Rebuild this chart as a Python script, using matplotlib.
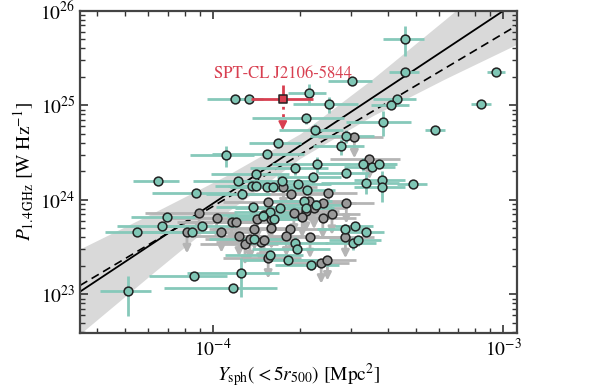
#!/usr/bin/env python3
"""
Radio power vs. Compton-Y scatter with upper limits, fit lines and confidence band.
"""

import numpy as np
import matplotlib
matplotlib.use("Agg")
import matplotlib.pyplot as plt
from matplotlib.ticker import LogLocator, NullFormatter

# Detections: Y_sph in units of 1e-4 Mpc^2, P_1.4 in units of 1e24 W/Hz,
# fractional errors on both
det_y = [4.59, 4.59, 9.44, 3.01, 2.14, 1.19, 1.33, 2.52, 8.38, 4.29,
         4.11, 2.09, 3.84, 5.82, 2.25, 2.88, 1.67, 2.76, 1.11, 1.53,
         2.28, 3.30, 3.53, 3.72, 1.92, 1.41, 2.88, 2.21, 0.646, 1.22,
         1.73, 3.83, 3.37, 4.89, 1.96, 1.36, 1.41, 1.53, 1.61, 3.83,
         2.11, 0.878, 1.26, 2.06, 1.70, 2.09, 0.694, 0.667, 0.547, 0.92,
         1.37, 1.50, 1.57, 1.49, 0.847, 1.39, 1.62, 2.86, 3.09, 3.37,
         3.04, 3.15, 1.92, 1.95, 1.57, 1.81, 2.18, 1.25, 0.862, 1.17,
         0.512, 2.27]
det_p = [50.6, 22.6, 22.3, 18.0, 13.4, 11.6, 11.6, 10.3, 10.2, 11.8,
         9.98, 7.27, 6.69, 5.47, 5.47, 4.75, 3.95, 3.70, 2.95, 3.05,
         2.39, 2.39, 2.24, 2.38, 2.15, 1.86, 1.93, 1.72, 1.58, 1.59,
         1.58, 1.63, 1.52, 1.47, 1.47, 1.41, 1.40, 1.35, 1.35, 1.35,
         1.27, 1.18, 1.14, 0.976, 0.811, 0.811, 0.661, 0.53, 0.46, 0.528,
         0.84, 0.689, 0.747, 0.67, 0.45, 0.384, 0.621, 0.486, 0.528, 0.458,
         0.348, 0.371, 0.348, 0.303, 0.257, 0.232, 0.205, 0.168, 0.155, 0.117,
         0.108, 0.89]
det_yerr = [0.16, 0.12, 0.07, 0.17, 0.15, 0.20, 0.12, 0.25, 0.08, 0.17,
            0.15, 0.35, 0.25, 0.08, 0.25, 0.25, 0.20, 0.20, 0.25, 0.35,
            0.30, 0.30, 0.20, 0.15, 0.30, 0.30, 0.20, 0.25, 0.18, 0.30,
            0.30, 0.20, 0.30, 0.12, 0.30, 0.25, 0.20, 0.25, 0.20, 0.20,
            0.25, 0.30, 0.25, 0.25, 0.30, 0.25, 0.25, 0.30, 0.22, 0.30,
            0.25, 0.30, 0.25, 0.25, 0.30, 0.30, 0.25, 0.20, 0.15, 0.15,
            0.20, 0.20, 0.30, 0.30, 0.30, 0.30, 0.25, 0.35, 0.30, 0.42,
            0.20, 0.25]
det_perr = [0.35, 0.10, 0.05, 0.05, 0.25, 0.04, 0.04, 0.20, 0.04, 0.08,
            0.06, 0.12, 0.30, 0.08, 0.15, 0.15, 0.10, 0.20, 0.25, 0.08,
            0.20, 0.15, 0.10, 0.10, 0.15, 0.12, 0.12, 0.15, 0.05, 0.08,
            0.10, 0.25, 0.25, 0.05, 0.10, 0.05, 0.05, 0.08, 0.08, 0.30,
            0.10, 0.08, 0.08, 0.10, 0.10, 0.10, 0.08, 0.08, 0.06, 0.10,
            0.10, 0.10, 0.10, 0.10, 0.08, 0.12, 0.12, 0.15, 0.10, 0.10,
            0.15, 0.12, 0.15, 0.12, 0.12, 0.12, 0.12, 0.45, 0.08, 0.10,
            0.45, 0.10]

# Upper limits (same units)
lim_y = [1.75, 1.86, 3.07, 3.46, 2.50, 2.15, 2.23, 2.88, 1.90, 2.09,
         2.39, 2.57, 2.40, 1.59, 1.85, 1.79, 2.16, 2.86, 2.36, 2.48,
         0.897, 1.03, 0.814, 1.07, 1.16, 1.20, 1.23, 1.29, 1.34, 1.46,
         1.50, 1.55, 1.39, 1.42, 1.55, 1.58, 2.03]
lim_p = [1.38, 1.14, 4.57, 2.73, 1.17, 0.96, 0.811, 0.93, 0.728, 0.76,
         0.645, 0.706, 0.93, 0.498, 0.486, 0.416, 0.40, 0.40, 0.215, 0.232,
         0.718, 0.645, 0.45, 0.458, 0.585, 0.575, 0.416, 0.34, 0.38, 0.357,
         0.371, 0.243, 0.486, 0.621, 0.953, 0.621, 0.66]
lim_yerr = [0.30, 0.30, 0.25, 0.27, 0.25, 0.30, 0.30, 0.25, 0.30, 0.30,
            0.30, 0.25, 0.30, 0.30, 0.30, 0.30, 0.30, 0.25, 0.25, 0.25,
            0.35, 0.35, 0.30, 0.35, 0.35, 0.30, 0.30, 0.30, 0.30, 0.30,
            0.30, 0.30, 0.30, 0.30, 0.30, 0.30, 0.30]

# SPT-CL J2106-5844
spt_y = 1.74
spt_p = 11.6
spt_yerr = [0.22, 0.27]
spt_perr_up = 0.40
spt_name = "SPT-CL J2106-5844"

# Fits: P = norm * (Y / 1e-3)^slope
fit_slope, fit_norm = 2.04, 1.0e26
alt_slope, alt_norm = 1.83, 5.75e25

# Confidence band
band_y = [3.49e-5, 6.31e-5, 1.12e-4, 2.0e-4, 3.55e-4, 6.31e-4, 1.12e-3]
band_lo = [3.80e22, 1.74e23, 7.41e23, 2.75e24, 7.76e24, 1.91e25, 4.47e25]
band_hi = [3.02e23, 7.41e23, 1.82e24, 5.01e24, 1.91e25, 8.13e25, 3.55e26]

teal = "#7fc6b5"
teal_bar = "#86c9ba"
grey = "#999999"
grey_bar = "#b5b5b5"
red = "#d83f50"

plt.rcParams["font.family"] = "STIXGeneral"
plt.rcParams["mathtext.fontset"] = "stix"
plt.rcParams["font.size"] = 14

fig = plt.figure(figsize=(5.98, 3.88), dpi=100)
ax = fig.add_axes([0.134, 0.142, 0.731, 0.830])
ax.set_xscale("log")
ax.set_yscale("log")
xlim = (3.49e-5, 1.117e-3)
ax.set_xlim(*xlim)
ax.set_ylim(3.89e22, 1e26)

# band and fit lines
ax.fill_between(band_y, band_lo, band_hi, color="#d9d9d9", lw=0, zorder=1)
xx = np.geomspace(xlim[0], xlim[1], 50)
ax.plot(xx, fit_norm * (xx / 1e-3) ** fit_slope, color="k", lw=1.3, zorder=2)
ax.plot(xx, alt_norm * (xx / 1e-3) ** alt_slope, color="k", lw=1.2,
        ls=(0, (5, 3)), zorder=2)

dy = np.array(det_y) * 1e-4
dp = np.array(det_p) * 1e24
ly = np.array(lim_y) * 1e-4
lp = np.array(lim_p) * 1e24

# upper limits: horizontal bars and downward arrows
ax.errorbar(ly, lp, xerr=np.array(lim_yerr) * ly, fmt="none",
            ecolor=grey_bar, elinewidth=2, zorder=3)
for x, p in zip(ly, lp):
    ax.annotate("", xy=(x, p * 0.6), xytext=(x, p),
                arrowprops=dict(arrowstyle="-|>", color=grey_bar, lw=2,
                                mutation_scale=11, shrinkA=0, shrinkB=0),
                zorder=3)

# detections
ax.errorbar(dy, dp, xerr=np.array(det_yerr) * dy, yerr=np.array(det_perr) * dp,
            fmt="none", ecolor=teal_bar, elinewidth=2, zorder=4)

ax.scatter(ly, lp, s=40, facecolor=grey, edgecolor="#222222", lw=1.1, zorder=5)
ax.scatter(dy, dp, s=40, facecolor=teal, edgecolor="#222222", lw=1.1, zorder=6)

# SPT-CL J2106-5844
sy, sp = spt_y * 1e-4, spt_p * 1e24
ax.errorbar([sy], [sp], xerr=[[spt_yerr[0] * sy], [spt_yerr[1] * sy]],
            yerr=[[0], [spt_perr_up * sp]], fmt="none", ecolor=red,
            elinewidth=2, zorder=7)
ax.plot([sy, sy], [sp, sp * 0.55], color=red, lw=2, ls=":", zorder=7)
ax.annotate("", xy=(sy, sp * 0.47), xytext=(sy, sp * 0.56),
            arrowprops=dict(arrowstyle="-|>", color=red, lw=1.5,
                            mutation_scale=12, shrinkA=0, shrinkB=0),
            zorder=7)
ax.scatter([sy], [sp], s=40, marker="s", facecolor=red, edgecolor="#222222",
           lw=1.1, zorder=8)
ax.text(sy, sp * 1.85, spt_name, color=red, fontsize=12,
        ha="center", va="center", zorder=8)

ax.set_xlabel(r"$Y_{\mathrm{sph}}(<5r_{500})$ [Mpc$^2$]", labelpad=1)
ax.set_ylabel(r"$P_{1.4\,\mathrm{GHz}}$ [W Hz$^{-1}$]", labelpad=3)

ax.xaxis.set_minor_locator(LogLocator(base=10, subs=np.arange(2, 10)))
ax.xaxis.set_minor_formatter(NullFormatter())
ax.yaxis.set_minor_locator(LogLocator(base=10, subs=np.arange(2, 10)))
ax.yaxis.set_minor_formatter(NullFormatter())
ax.tick_params(which="both", direction="in", top=True, right=True,
               color="#333333")
ax.tick_params(which="major", length=6, width=1.2)
ax.tick_params(which="minor", length=3.5, width=1.0)
for s in ax.spines.values():
    s.set_linewidth(1.6)
    s.set_color("#444444")

fig.savefig("out.png", dpi=100)
